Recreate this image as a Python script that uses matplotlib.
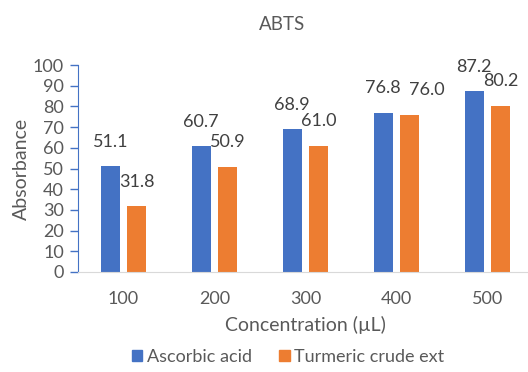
import numpy as np
import matplotlib

matplotlib.use("Agg")
import matplotlib.pyplot as plt
from matplotlib.patches import Patch

categories = ["100", "200", "300", "400", "500"]
ascorbic = [51.1, 60.7, 68.9, 76.8, 87.2]
turmeric = [31.8, 50.9, 61.0, 76.0, 80.2]
series_names = ["Ascorbic acid", "Turmeric crude ext"]

BLUE = "#4472C4"
ORANGE = "#ED7D31"
TEXT = "#595959"

plt.rcParams["font.family"] = ["Lato", "DejaVu Sans"]

fig = plt.figure(figsize=(5.28, 3.72), dpi=100)
ax = fig.add_axes([78 / 528, 100 / 372, 455 / 528, 207 / 372])

x = np.arange(len(categories))
w = 0.215
off = 0.145
b1 = ax.bar(x - off, ascorbic, w, color=BLUE)
b2 = ax.bar(x + off, turmeric, w, color=ORANGE)

# labels that would collide get pushed apart sideways, like Excel does
label_shift = {(1, 3): 12}
for k, (bars, vals) in enumerate(((b1, ascorbic), (b2, turmeric))):
    for i, (rect, v) in enumerate(zip(bars, vals)):
        ax.annotate(f"{v:.1f}", (rect.get_x() + rect.get_width() / 2, v),
                    xytext=(label_shift.get((k, i), 0), 12),
                    textcoords="offset points", ha="center", va="bottom",
                    fontsize=13, color="#404040")

ax.set_xlim(-0.5, 4.5)
ax.set_ylim(0, 100)
ax.set_yticks(range(0, 101, 10))
ax.set_xticks(x)
ax.set_xticklabels(categories)
ax.tick_params(axis="y", colors=BLUE, length=6, width=1, labelsize=13,
               labelcolor=TEXT, pad=4)
ax.tick_params(axis="x", length=0, labelsize=13, labelcolor=TEXT, pad=14)

for s in ("top", "right"):
    ax.spines[s].set_visible(False)
ax.spines["left"].set_color(BLUE)
ax.spines["bottom"].set_color("#D9D9D9")

ax.set_ylabel("Absorbance", fontsize=14, color=TEXT, labelpad=2)
ax.set_xlabel("Concentration (µL)", fontsize=14, color=TEXT, labelpad=6)
fig.text(282 / 528, 1 - 25 / 372, "ABTS", ha="center", va="center",
         fontsize=13.5, color=TEXT)

handles = [Patch(color=BLUE), Patch(color=ORANGE)]
fig.legend(handles, series_names, loc="center",
           bbox_to_anchor=(288 / 528, 1 - 357 / 372),
           ncol=2, frameon=False, fontsize=13, handlelength=0.6,
           handleheight=0.6, handletextpad=0.25, columnspacing=1.5,
           labelcolor=TEXT)

fig.savefig("out.png", dpi=100)
